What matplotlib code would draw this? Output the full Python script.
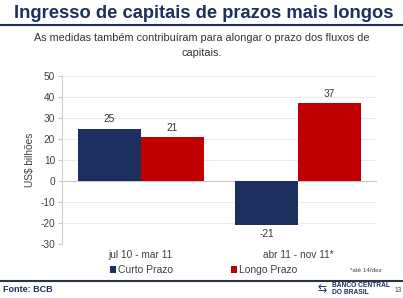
import numpy as np
import matplotlib
matplotlib.use("Agg")
import matplotlib.pyplot as plt

plt.rcParams.update({"font.family": ["Liberation Sans", "DejaVu Sans"], "font.size": 7,
                     "axes.unicode_minus": False})

periods = ["jul 10 - mar 11", "abr 11 - nov 11*"]
series = ["Curto Prazo", "Longo Prazo"]
curto = [25, -21]
longo = [21, 37]
yticks = [-30, -20, -10, 0, 10, 20, 30, 40, 50]

NAVY, RED, GRAY = "#1c2f5f", "#c00000", "#404040"
W, H = 403, 298

fig = plt.figure(figsize=(W / 100, H / 100), dpi=100)
ax = fig.add_axes([62 / W, 1 - 244 / H, 315 / W, 168 / H])

x = np.arange(len(periods))
bw = 0.4
b1 = ax.bar(x - bw / 2, curto, bw, color=NAVY, label=series[0], zorder=3)
b2 = ax.bar(x + bw / 2, longo, bw, color=RED, label=series[1], zorder=3)
for bars in (b1, b2):
    for r in bars:
        v = r.get_height()
        ax.annotate(f"{v:g}", (r.get_x() + r.get_width() / 2, v),
                    xytext=(0, 3 if v >= 0 else -3), textcoords="offset points",
                    ha="center", va="bottom" if v >= 0 else "top", fontsize=7.3, color="#333333")

ax.set_xlim(-0.5, 1.5); ax.set_ylim(-30, 50)
ax.set_yticks(yticks)
ax.set_xticks(x); ax.set_xticklabels(periods, color=GRAY, fontsize=7.3)
ax.tick_params(axis="x", length=0, pad=4)
ax.tick_params(axis="y", length=3, color="#c8c8c8", labelcolor=GRAY, pad=2, labelsize=7.3)
ax.grid(axis="y", color="#ececec", lw=0.7, zorder=0)
for s in ("top", "right", "bottom"):
    ax.spines[s].set_visible(False)
ax.spines["left"].set_color("#d0d0d0")
ax.axhline(0, color="#c8c8c8", lw=0.8, zorder=2)
ax.set_ylabel("US$ bilhões", color=GRAY, labelpad=4, fontsize=7.3)

leg = ax.legend(loc="upper center", bbox_to_anchor=(0.45, -0.07), ncol=2, frameon=False,
                handlelength=0.6, handleheight=0.6, handletextpad=0.2, columnspacing=5.5,
                fontsize=7.5)
for t in leg.get_texts():
    t.set_color(GRAY)

# header
fig.text(0.505, 1 - 14 / H, "Ingresso de capitais de prazos mais longos", ha="center", va="center",
         fontsize=13.2, fontweight="bold", color=NAVY)
fig.add_artist(plt.Line2D([0, 1], [1 - 25 / H, 1 - 25 / H], color=NAVY, lw=1.5))
fig.text(0.5, 1 - 45.5 / H, "As medidas também contribuíram para alongar o prazo dos fluxos de\ncapitais.",
         ha="center", va="center", fontsize=7.8, color="#333333", linespacing=1.55)

# footer
fig.text(350 / W, 1 - 270 / H, "*até 14/dez", ha="left", va="center", fontsize=4.5, color=GRAY)
fig.add_artist(plt.Line2D([0, 1], [1 - 281 / H, 1 - 281 / H], color="#2a3440", lw=1.5))
fig.text(3 / W, 1 - 290 / H, "Fonte: BCB", ha="left", va="center", fontsize=6.5, fontweight="bold", color=NAVY)
fig.text(318 / W, 1 - 289 / H, "⇆", ha="left", va="center", fontsize=8, color=NAVY)
fig.text(332 / W, 1 - 289 / H, "BANCO CENTRAL\nDO BRASIL", ha="left", va="center", fontsize=4.8,
         fontweight="bold", color=NAVY, linespacing=1.0)
fig.text(398 / W, 1 - 290 / H, "13", ha="center", va="center", fontsize=4.8, color=GRAY)

fig.savefig("out.png", dpi=100)
